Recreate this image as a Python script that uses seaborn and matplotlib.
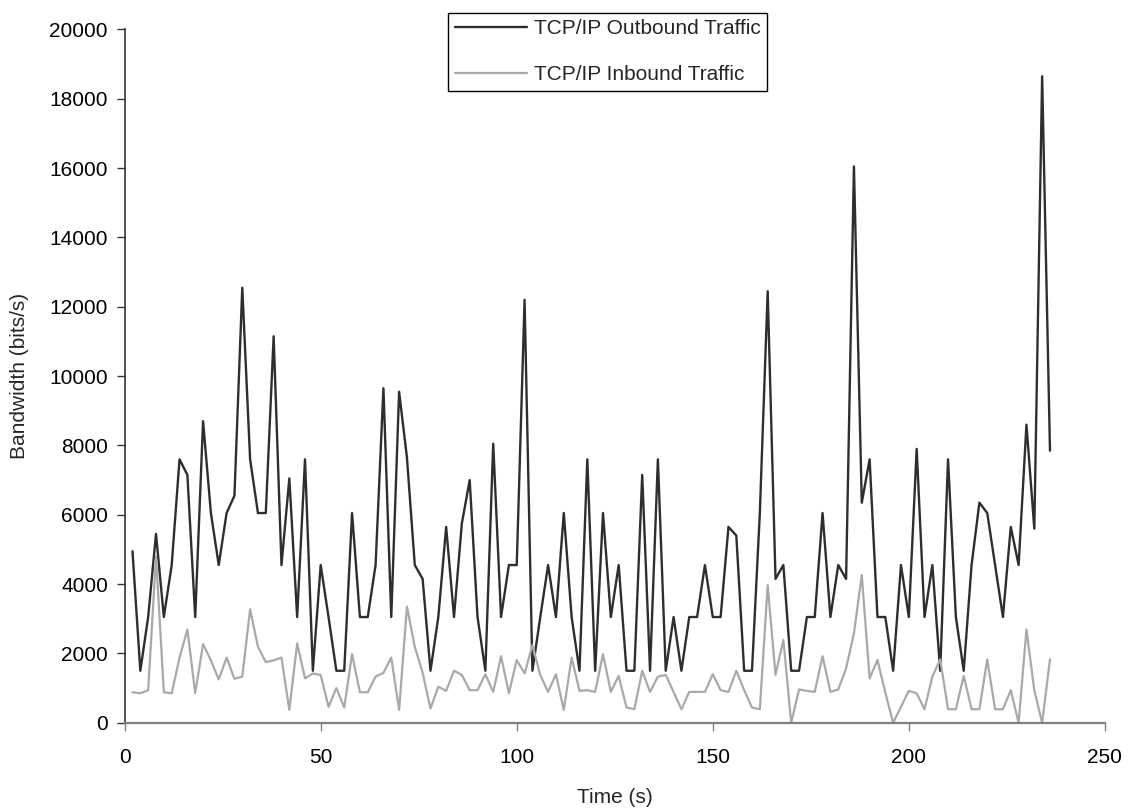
import pandas as pd
import seaborn as sns
import matplotlib.pyplot as plt

# Sample times (every 2 s)
time_s = list(range(2, 237, 2))

# Bandwidth (bits/s)
outbound = [
    4950, 1500, 3050, 5450, 3050, 4550, 7600, 7150, 3050, 8700,
    6050, 4550, 6050, 6550, 12550, 7600, 6050, 6050, 11150, 4550,
    7050, 3050, 7600, 1500, 4550, 3050, 1500, 1500, 6050, 3050,
    3050, 4550, 9650, 3050, 9550, 7650, 4550, 4150, 1500, 3050,
    5650, 3050, 5750, 7000, 3050, 1500, 8050, 3050, 4550, 4550,
    12200, 1500, 3050, 4550, 3050, 6050, 3050, 1500, 7600, 1500,
    6050, 3050, 4550, 1500, 1500, 7150, 1500, 7600, 1500, 3050,
    1500, 3050, 3050, 4550, 3050, 3050, 5650, 5400, 1500, 1500,
    6050, 12450, 4150, 4550, 1500, 1500, 3050, 3050, 6050, 3050,
    4550, 4150, 16050, 6350, 7600, 3050, 3050, 1500, 4550, 3050,
    7900, 3050, 4550, 1500, 7600, 3050, 1500, 4550, 6350, 6050,
    4550, 3050, 5650, 4550, 8600, 5600, 18650, 7850,
]
inbound = [
    880, 850, 940, 4800, 880, 850, 1880, 2690, 850, 2270,
    1800, 1250, 1880, 1270, 1330, 3270, 2190, 1750, 1800, 1880,
    370, 2290, 1280, 1420, 1380, 460, 1000, 440, 1980, 880,
    880, 1330, 1440, 1880, 370, 3350, 2190, 1440, 410, 1040,
    920, 1500, 1380, 940, 940, 1400, 890, 1920, 850, 1810,
    1420, 2240, 1380, 890, 1400, 370, 1880, 920, 940, 890,
    1980, 890, 1350, 440, 390, 1500, 890, 1330, 1380, 890,
    390, 890, 890, 890, 1400, 940, 890, 1500, 940, 440,
    390, 3970, 1380, 2390, 0, 960, 920, 890, 1920, 890,
    960, 1570, 2580, 4260, 1280, 1810, 870, 0, 460, 920,
    850, 390, 1330, 1830, 390, 390, 1350, 390, 390, 1830,
    390, 390, 940, 0, 2690, 940, 0, 1830,
]

x_ticks = [0, 50, 100, 150, 200, 250]
y_ticks = list(range(0, 20001, 2000))

df = pd.DataFrame({"Time": time_s, "Outbound": outbound, "Inbound": inbound})

sns.set_theme(style="white")
plt.rcParams["font.family"] = ["Liberation Sans", "DejaVu Sans"]

fig = plt.figure(figsize=(11.28, 8.08), dpi=100)
ax = fig.add_axes([0.1105, 0.1055, 0.869, 0.858])

sns.lineplot(data=df, x="Time", y="Outbound", ax=ax, color="#2e2e2e",
             linewidth=1.7, label="TCP/IP Outbound Traffic")
sns.lineplot(data=df, x="Time", y="Inbound", ax=ax, color="#a9a9a9",
             linewidth=1.6, label="TCP/IP Inbound Traffic")

ax.set_xlim(0, 250)
ax.set_ylim(0, 20000)
ax.set_xticks(x_ticks)
ax.set_yticks(y_ticks)
ax.tick_params(axis="both", labelsize=15, colors="black", direction="out",
               length=6, width=1, bottom=True, left=True)
ax.tick_params(axis="x", color="#808080", pad=12)
ax.tick_params(axis="y", color="#333333", pad=6)

for side in ["top", "right"]:
    ax.spines[side].set_visible(False)
ax.spines["left"].set_color("#333333")
ax.spines["bottom"].set_color("#808080")
ax.spines["left"].set_linewidth(1.2)
ax.spines["bottom"].set_linewidth(1.6)

ax.set_xlabel("Time (s)", fontsize=15, labelpad=15)
ax.set_ylabel("Bandwidth (bits/s)", fontsize=15, labelpad=15)

ax.get_legend().remove()
handles, labels = ax.get_legend_handles_labels()
fig.legend(handles, labels, loc="upper center", bbox_to_anchor=(0.5386, 0.984),
           borderaxespad=0, frameon=True, fancybox=False, edgecolor="black",
           framealpha=1, fontsize=15, handlelength=3.5, handletextpad=0.3,
           labelspacing=1.3, borderpad=0.3)

plt.savefig("out.png", dpi=100)
